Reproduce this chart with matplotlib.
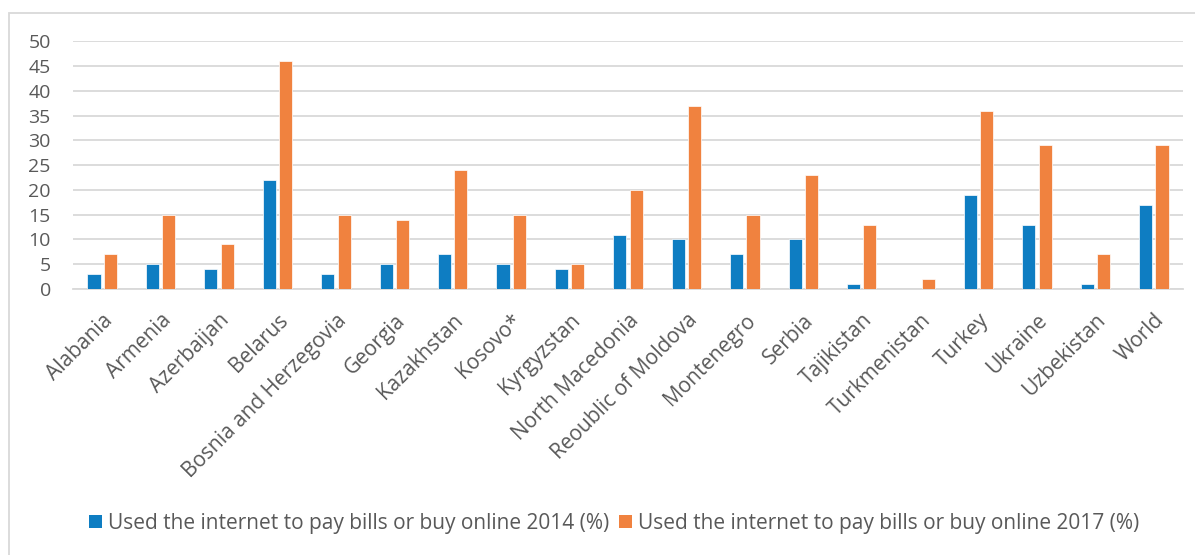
import matplotlib
matplotlib.use("Agg")
import matplotlib.pyplot as plt
import numpy as np
from matplotlib.patches import Rectangle, Patch

plt.rcParams['font.family'] = ['Open Sans', 'DejaVu Sans']

countries = ["Alabania", "Armenia", "Azerbaijan", "Belarus", "Bosnia and Herzegovia",
             "Georgia", "Kazakhstan", "Kosovo*", "Kyrgyzstan", "North Macedonia",
             "Reoublic of Moldova", "Montenegro", "Serbia", "Tajikistan", "Turkmenistan",
             "Turkey", "Ukraine", "Uzbekistan", "World"]
online_2014 = [3, 5, 4, 22, 3, 5, 7, 5, 4, 11, 10, 7, 10, 1, 0, 19, 13, 1, 17]
online_2017 = [7, 15, 9, 46, 15, 14, 24, 15, 5, 20, 37, 15, 23, 13, 2, 36, 29, 7, 29]
series_labels = ["Used the internet to pay bills or buy online 2014 (%)",
                 "Used the internet to pay bills or buy online 2017 (%)"]
y_ticks = [0, 5, 10, 15, 20, 25, 30, 35, 40, 45, 50]

BLUE = "#0E7DC2"
ORANGE = "#F0823F"
GRID = "#D9D9D9"
TEXT = "#595959"

W, H = 1195, 555
fig = plt.figure(figsize=(W / 100, H / 100), dpi=100)

# chart area frame
fig.patches.append(Rectangle((8.5 / W, -0.1), 1.2, 1 - 12.5 / H + 0.1,
                             transform=fig.transFigure, fill=False,
                             edgecolor=GRID, linewidth=1.3))

ax = fig.add_axes([73 / W, 1 - 289 / H, (1183 - 73) / W, (289 - 41.3) / H])

x = np.arange(len(countries))
bw = 0.225
off = 0.14
ax.bar(x - off, online_2014, bw, color=BLUE, edgecolor="white", linewidth=0.5, zorder=3)
ax.bar(x + off, online_2017, bw, color=ORANGE, edgecolor="white", linewidth=0.5, zorder=3)

ax.set_xlim(-0.5, len(countries) - 0.5)
ax.set_ylim(0, 50)
ax.set_yticks(y_ticks)
ax.yaxis.grid(True, color=GRID, linewidth=1.3, zorder=0)
ax.set_axisbelow(True)
for s in ["top", "right", "left"]:
    ax.spines[s].set_visible(False)
ax.spines["bottom"].set_color(GRID)
ax.spines["bottom"].set_linewidth(1.3)
ax.tick_params(axis="y", length=0, pad=16, labelsize=14, labelcolor=TEXT)
ax.tick_params(axis="x", length=0, pad=15)
ax.set_xticks(x)
ax.set_xticklabels(countries, rotation=45, ha="right", va="top",
                   rotation_mode="anchor", fontsize=15, color=TEXT)

handles = [Patch(facecolor=BLUE), Patch(facecolor=ORANGE)]
fig.legend(handles, series_labels, loc="center", bbox_to_anchor=(0.514, 1 - 523 / H),
           ncol=2, frameon=False, fontsize=15, labelcolor=TEXT,
           handlelength=0.6, handleheight=0.6, handletextpad=0.3, columnspacing=0.5)

fig.savefig("out.png", dpi=100, facecolor="white")
